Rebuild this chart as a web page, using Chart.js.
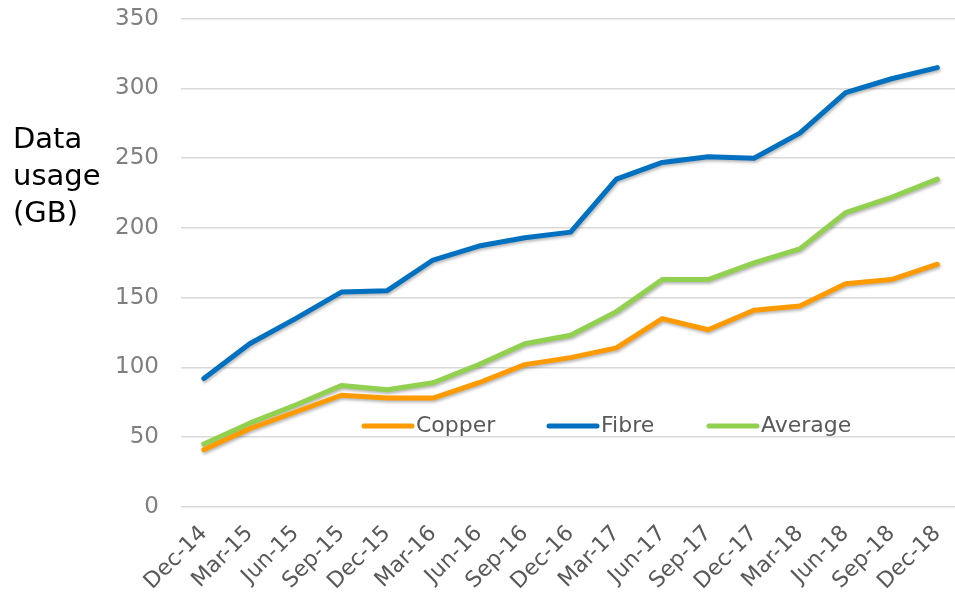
<!DOCTYPE html>
<html>
<head>
<meta charset="utf-8">
<script src="https://cdn.jsdelivr.net/npm/chart.js@4/dist/chart.umd.min.js"></script>
<style>
  html, body { margin: 0; padding: 0; background: #fff; overflow: hidden; }
  #wrap { width: 962px; height: 618px; margin-top: -17px; }
</style>
</head>
<body>
<div id="wrap"><canvas id="usageChart"></canvas></div>
<script>
// Quarterly data usage per connection (GB)
var quarters = ['Dec-14', 'Mar-15', 'Jun-15', 'Sep-15', 'Dec-15', 'Mar-16', 'Jun-16', 'Sep-16',
    'Dec-16', 'Mar-17', 'Jun-17', 'Sep-17', 'Dec-17', 'Mar-18', 'Jun-18', 'Sep-18', 'Dec-18'];
var copper  = [41, 56, 68, 80, 78, 78, 89, 102, 107, 114, 135, 127, 141, 144, 160, 163, 174];
var fibre   = [92, 117, 135, 154, 155, 177, 187, 193, 197, 235, 247, 251, 250, 268, 297, 307, 315];
var average = [45, 60, 73, 87, 84, 89, 102, 117, 123, 140, 163, 163, 175, 185, 211, 222, 235];
var yTicks  = [0, 50, 100, 150, 200, 250, 300, 350];
var yTitle  = ['Data', 'usage', '(GB)'];

var FONT = '"DejaVu Sans", Verdana, sans-serif';
var SHIFT = 17; // canvas is pulled up by this much so the 350 line sits near the top edge

// soft shadow under the lines, like the spreadsheet export
var lineShadow = {
    id: 'lineShadow',
    beforeDatasetsDraw: function(chart) {
        var ctx = chart.ctx;
        ctx.save();
        ctx.shadowColor = 'rgba(0,0,0,0.28)';
        ctx.shadowBlur = 3;
        ctx.shadowOffsetX = 1;
        ctx.shadowOffsetY = 2;
    },
    afterDatasetsDraw: function(chart) {
        chart.ctx.restore();
    }
};

// y-axis title, horizontal, stacked on three lines
var sideTitle = {
    id: 'sideTitle',
    afterDraw: function(chart) {
        var ctx = chart.ctx;
        ctx.save();
        ctx.fillStyle = '#000';
        ctx.font = '29px ' + FONT;
        ctx.textAlign = 'left';
        ctx.textBaseline = 'alphabetic';
        yTitle.forEach(function(t, i) {
            ctx.fillText(t, 13, SHIFT + 148 + i * 37);
        });
        ctx.restore();
    }
};

// legend sits inside the plot, one row
var innerLegend = {
    id: 'innerLegend',
    afterDraw: function(chart) {
        var ctx = chart.ctx;
        var y = chart.scales.y.getPixelForValue(58);
        var xs = [364, 549, 709];
        ctx.save();
        ctx.font = '22px ' + FONT;
        ctx.textBaseline = 'middle';
        ctx.textAlign = 'left';
        chart.data.datasets.forEach(function(ds, i) {
            var x = xs[i];
            ctx.strokeStyle = ds.borderColor;
            ctx.lineWidth = 5;
            ctx.lineCap = 'round';
            ctx.beginPath();
            ctx.moveTo(x, y);
            ctx.lineTo(x + 48, y);
            ctx.stroke();
            ctx.fillStyle = '#595959';
            ctx.fillText(ds.label, x + 52, y);
        });
        ctx.restore();
    }
};

new Chart(document.getElementById('usageChart'), {
    type: 'line',
    data: {
        labels: quarters,
        datasets: [
            { label: 'Copper', data: copper, borderColor: '#FF9A00' },
            { label: 'Fibre', data: fibre, borderColor: '#0070C0' },
            { label: 'Average', data: average, borderColor: '#92D050' }
        ]
    },
    options: {
        responsive: true,
        maintainAspectRatio: false,
        animation: false,
        layout: { padding: { left: 93, top: 0, right: 0, bottom: 0 } },
        elements: {
            line: { borderWidth: 5, tension: 0, borderCapStyle: 'round', borderJoinStyle: 'round', fill: false },
            point: { radius: 0, hoverRadius: 0 }
        },
        plugins: {
            legend: { display: false },
            tooltip: { enabled: false }
        },
        scales: {
            x: {
                offset: true,
                grid: { display: false },
                border: { display: false },
                ticks: {
                    color: '#595959',
                    font: { family: FONT, size: 22 },
                    maxRotation: 45,
                    minRotation: 45,
                    autoSkip: false,
                    padding: 6
                }
            },
            y: {
                min: 0,
                max: 350,
                afterBuildTicks: function(axis) {
                    axis.ticks = yTicks.map(function(v) { return { value: v }; });
                },
                grid: { color: '#d9d9d9', lineWidth: 1.5, drawTicks: false },
                border: { display: false },
                ticks: {
                    color: '#7f7f7f',
                    font: { family: FONT, size: 23 },
                    padding: 22
                }
            }
        }
    },
    plugins: [lineShadow, sideTitle, innerLegend]
});
</script>
</body>
</html>
